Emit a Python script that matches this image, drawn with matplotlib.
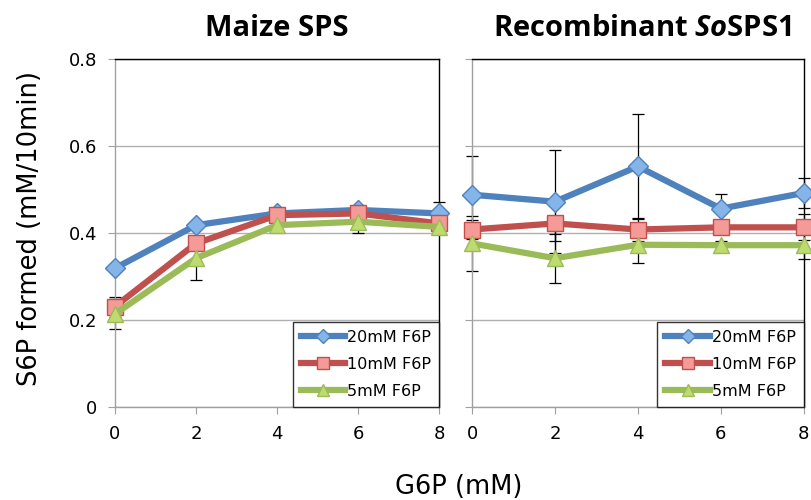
import numpy as np
import matplotlib.pyplot as plt
from matplotlib.lines import Line2D

plt.rcParams['mathtext.fontset'] = 'custom'
plt.rcParams['mathtext.bfit'] = 'Open Sans:italic:bold'
plt.rcParams['mathtext.bf'] = 'Open Sans:bold'
plt.rcParams['mathtext.rm'] = 'Open Sans'

# Data
g6p = [0, 2, 4, 6, 8]
labels = ['20mM F6P', '10mM F6P', '5mM F6P']

maize_20 = [0.319, 0.418, 0.445, 0.453, 0.445]
maize_10 = [0.231, 0.376, 0.441, 0.445, 0.422]
maize_5 = [0.214, 0.342, 0.418, 0.426, 0.414]
maize_20_err = [0.0, 0.005, 0.005, 0.01, 0.027]
maize_10_err = [0.023, 0.01, 0.008, 0.01, 0.01]
maize_5_err = [0.035, 0.05, 0.005, 0.026, 0.01]

recomb_20 = [0.488, 0.472, 0.553, 0.456, 0.492]
recomb_10 = [0.408, 0.422, 0.408, 0.413, 0.413]
recomb_5 = [0.376, 0.342, 0.373, 0.372, 0.372]
recomb_20_err = [0.09, 0.118, 0.12, 0.033, 0.035]
recomb_10_err = [0.022, 0.04, 0.026, 0.01, 0.03]
recomb_5_err = [0.064, 0.056, 0.042, 0.01, 0.032]

line_colors = ['#4F81BD', '#C0504D', '#9BBB59']
marker_colors = ['#85B5E8', '#F49B98', '#BEDB70']
markers = ['D', 's', '^']
msizes = [10, 11.5, 11.5]

fig = plt.figure(figsize=(8.11, 5.0), dpi=100)
ax1 = fig.add_axes([0.1418, 0.186, 0.3995, 0.696])
ax2 = fig.add_axes([0.582, 0.186, 0.409, 0.696])

panels = [
    (ax1, [maize_20, maize_10, maize_5], [maize_20_err, maize_10_err, maize_5_err]),
    (ax2, [recomb_20, recomb_10, recomb_5], [recomb_20_err, recomb_10_err, recomb_5_err]),
]

for ax, series, errs in panels:
    for i in range(3):
        ax.errorbar(g6p, series[i], yerr=errs[i], fmt='none', ecolor='black',
                    elinewidth=0.9, capsize=4, capthick=0.9, zorder=2, clip_on=False)
    for i in range(3):
        ax.plot(g6p, series[i], color=line_colors[i], lw=4.5, marker=markers[i],
                ms=msizes[i], mfc=marker_colors[i], mec=line_colors[i], mew=1,
                zorder=3 + i * 0.1, clip_on=False)
    ax.set_xlim(0, 8)
    ax.set_ylim(0, 0.8)
    ax.set_xticks([0, 2, 4, 6, 8])
    ax.set_yticks([0, 0.2, 0.4, 0.6, 0.8])
    ax.grid(axis='y', color='#B0B0B0', lw=1)
    ax.set_axisbelow(True)
    ax.tick_params(axis='both', direction='out', length=5, color='#A0A0A0',
                   labelsize=13, pad=8)
    ax.spines['left'].set_color('#A0A0A0')
    ax.spines['bottom'].set_color('#A0A0A0')
    ax.spines['top'].set_color('black')
    ax.spines['right'].set_color('black')
    for s in ax.spines.values():
        s.set_linewidth(1)

    handles = [Line2D([], [], color=line_colors[i], lw=4.5, marker=markers[i],
                      ms=msizes[i] * 0.7, mfc=marker_colors[i], mec=line_colors[i])
               for i in range(3)]
    leg = ax.legend(handles, labels, loc='lower right', fontsize=11.5, frameon=True,
                    fancybox=False, borderaxespad=0, handlelength=2.8,
                    handletextpad=0.1, labelspacing=0.75, borderpad=0.5)
    leg.get_frame().set_edgecolor('black')
    leg.get_frame().set_linewidth(1)

ax1.set_yticklabels(['0', '0.2', '0.4', '0.6', '0.8'])
ax2.set_yticklabels([])

fig.text(0.341, 0.944, 'Maize SPS', ha='center', va='center', fontsize=21,
         fontweight='bold', family='Open Sans')
fig.text(0.792, 0.944, r'Recombinant $\mathbfit{So}$SPS1', ha='center', va='center',
         fontsize=21, fontweight='bold', family='Open Sans')
fig.text(0.037, 0.543, 'S6P formed (mM/10min)', rotation=90, ha='center',
         va='center', fontsize=18.5)
fig.text(0.566, 0.026, 'G6P (mM)', ha='center', va='center', fontsize=18.5)

plt.savefig('out.png', dpi=100)
